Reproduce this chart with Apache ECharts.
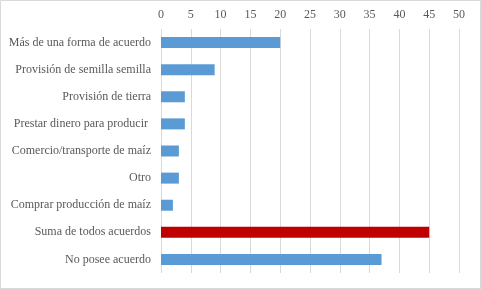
<!DOCTYPE html>
<html>
<head>
<meta charset="utf-8">
<script src="https://cdn.jsdelivr.net/npm/echarts@6/dist/echarts.min.js"></script>
<style>
  html, body { margin: 0; padding: 0; background: #fff; }
  #chart { width: 481px; height: 289px; }
</style>
</head>
<body>
<div id="chart"></div>
<script>
// categories, top to bottom as drawn
const categories = [
  'Más de una forma de acuerdo',
  'Provisión de semilla semilla',
  'Provisión de tierra',
  'Prestar dinero para producir ',
  'Comercio/transporte de maíz',
  'Otro',
  'Comprar producción de maíz',
  'Suma de todos acuerdos',
  'No posee acuerdo'
];
const values = [20, 9, 4, 4, 3, 3, 2, 45, 37];
const highlightIndex = 7; // the "suma" bar is red

const blue = '#5b9bd5';
const red = '#c00000';

const chart = echarts.init(document.getElementById('chart'));

chart.setOption({
  animation: false,
  backgroundColor: '#fff',
  textStyle: { fontFamily: 'Liberation Serif' },
  graphic: [{
    type: 'rect',
    shape: { x: 0.5, y: 0.5, width: 480, height: 288 },
    style: { fill: 'none', stroke: '#d9d9d9', lineWidth: 1 },
    silent: true
  }],
  grid: { left: 161, right: 22, top: 29, bottom: 16, containLabel: false },
  xAxis: {
    type: 'value',
    position: 'top',
    min: 0,
    max: 50,
    interval: 5,
    axisLine: { show: false },
    axisTick: { show: false },
    axisLabel: { color: '#595959', fontSize: 12, margin: 8 },
    splitLine: { lineStyle: { color: '#d9d9d9', width: 1 } }
  },
  yAxis: {
    type: 'category',
    data: categories,
    inverse: true,
    axisLine: { show: false },
    axisTick: { show: false },
    axisLabel: { color: '#595959', fontSize: 12, margin: 10 }
  },
  series: [{
    type: 'bar',
    barWidth: 11,
    data: values.map((v, i) => ({
      value: v,
      itemStyle: { color: i === highlightIndex ? red : blue }
    }))
  }]
});
</script>
</body>
</html>
